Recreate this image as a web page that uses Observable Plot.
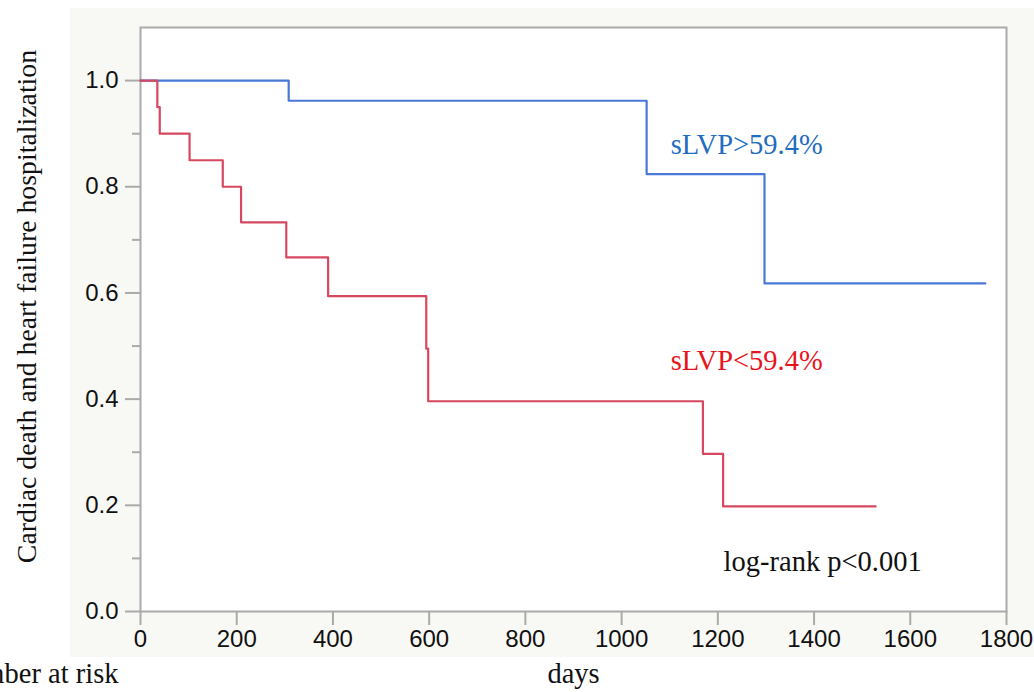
<!DOCTYPE html>
<html>
<head>
<meta charset="utf-8">
<script src="https://cdn.jsdelivr.net/npm/d3@7"></script>
<script src="https://cdn.jsdelivr.net/npm/@observablehq/plot@0.6"></script>
<style>
  html, body { margin: 0; padding: 0; background: #ffffff; }
  #wrap { position: relative; width: 1034px; height: 692px; overflow: hidden; }
  #panel { position: absolute; left: 70px; top: 8px; width: 964px; height: 649px; background: #f8f8f4; }
  #chart { position: absolute; left: 0; top: 0; }
</style>
</head>
<body>
<div id="wrap"><div id="panel"></div><div id="chart"></div></div>
<script>
// Kaplan-Meier step data (days, survival)
const highDays = [0, 308, 1052, 1297, 1756];
const highSurv = [1.0, 0.962, 0.824, 0.618, 0.618];
const lowDays  = [0, 35, 40, 102, 171, 209, 303, 390, 594, 598, 1169, 1211, 1528];
const lowSurv  = [1.0, 0.95, 0.90, 0.85, 0.80, 0.733, 0.667, 0.594, 0.495, 0.396, 0.297, 0.198, 0.198];

const xTicks = [0, 200, 400, 600, 800, 1000, 1200, 1400, 1600, 1800];
const yTicks = [0, 0.2, 0.4, 0.6, 0.8, 1.0];
const yMinorTicks = [0.1, 0.3, 0.5, 0.7, 0.9];

const highLabel = "sLVP>59.4%";
const lowLabel = "sLVP<59.4%";
const pLabel = "log-rank p<0.001";
const yTitle = "Cardiac death and heart failure hospitalization";
const xTitle = "days";
const riskTitle = "Number at risk";

// annotation anchors in data units
const annotations = [
  {x: 1102, y: 0.862, text: highLabel, color: "#1f6dbf"},
  {x: 1102, y: 0.454, text: lowLabel, color: "#e8141c"},
  {x: 1212, y: 0.077, text: pLabel, color: "#111111"}
];

const high = highDays.map((d, i) => ({days: d, surv: highSurv[i]}));
const low = lowDays.map((d, i) => ({days: d, surv: lowSurv[i]}));

const serif = "'Liberation Serif', 'Times New Roman', serif";
const sans = "'Liberation Sans', Arial, Helvetica, sans-serif";

const chart = Plot.plot({
  width: 1034,
  height: 692,
  marginLeft: 140,
  marginRight: 28,
  marginTop: 27,
  marginBottom: 81,
  style: {background: "transparent", fontFamily: sans, fontSize: "24px", color: "#111", overflow: "visible"},
  x: {domain: [0, 1800]},
  y: {domain: [0, 1.1]},
  marks: [
    Plot.frame({fill: "white", stroke: "none"}),
    Plot.axisX(xTicks, {tickSize: 14, tickPadding: 4, tickFormat: (d) => String(d), fontSize: 24, fontFamily: sans, stroke: "#aaaaaa", strokeWidth: 2, fill: "#111", label: null}),
    Plot.axisY(yTicks, {tickSize: 15, tickPadding: 7, tickFormat: ".1f", fontSize: 24, fontFamily: sans, stroke: "#aaaaaa", strokeWidth: 2, fill: "#111", label: null}),
    Plot.axisY(yMinorTicks, {tickSize: 8, tickFormat: () => "", stroke: "#aaaaaa", strokeWidth: 2, label: null}),
    Plot.frame({stroke: "#aaaaaa", strokeWidth: 2}),
    Plot.line(high, {x: "days", y: "surv", curve: "step-after", stroke: "#4a78d6", strokeWidth: 2.2}),
    Plot.line(low, {x: "days", y: "surv", curve: "step-after", stroke: "#d64860", strokeWidth: 2.2}),
    Plot.text(annotations, {x: "x", y: "y", text: "text", fill: "color", textAnchor: "start", lineAnchor: "bottom", fontFamily: serif, fontSize: 28.5}),
    Plot.text([yTitle], {frameAnchor: "left", dx: -113, dy: -13, rotate: -90, textAnchor: "middle", fontFamily: serif, fontSize: 27.8, fill: "#111", lineAnchor: "middle"}),
    Plot.text([xTitle], {frameAnchor: "bottom", dy: 62, textAnchor: "middle", fontFamily: serif, fontSize: 28.5, fill: "#111", lineAnchor: "middle"}),
    Plot.text([riskTitle], {frameAnchor: "bottom-left", dx: -22, dy: 62, textAnchor: "end", fontFamily: serif, fontSize: 28.5, fill: "#111", lineAnchor: "middle"})
  ]
});
document.getElementById("chart").appendChild(chart);
</script>
</body>
</html>
